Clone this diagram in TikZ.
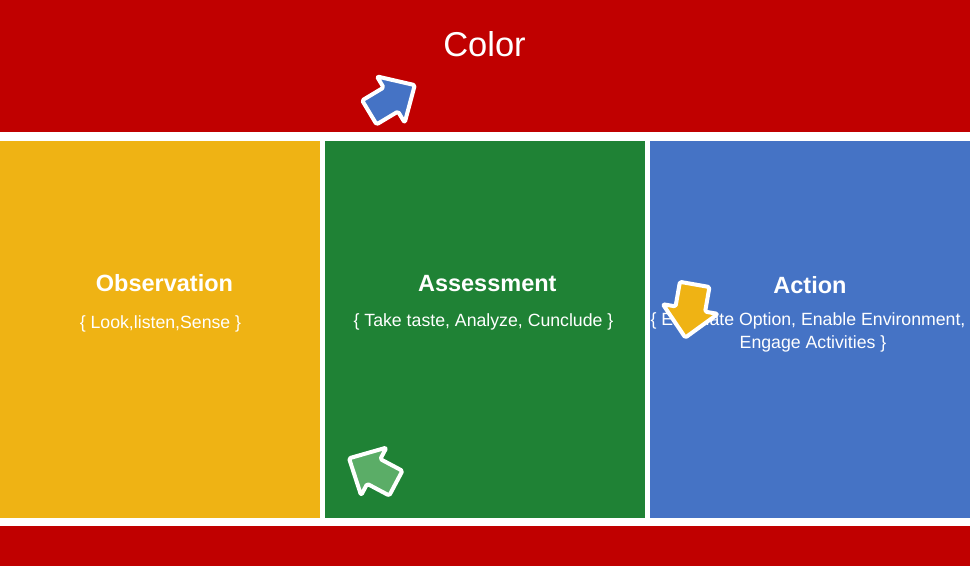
\documentclass[tikz,border=0pt]{standalone}
\usepackage{fontspec}
\setmainfont{Liberation Sans}
\definecolor{bandred}{HTML}{C00000}
\definecolor{panelyellow}{HTML}{EFB314}
\definecolor{panelgreen}{HTML}{1F8235}
\definecolor{panelblue}{HTML}{4573C5}
\definecolor{lightgreen}{HTML}{5BAD67}
\begin{document}
\begin{tikzpicture}[x=1pt,y=-1pt,
  band/.style={draw=none,inner sep=0pt,outer sep=0pt,fill=bandred,minimum width=970pt},
  panel/.style={draw=none,inner sep=0pt,outer sep=0pt,minimum width=320pt,minimum height=377pt},
  heading/.style={anchor=base,inner sep=0pt,text=white,font=\fontsize{23.5}{28}\selectfont\bfseries},
  detail/.style={anchor=base,inner sep=0pt,text=white,font=\fontsize{17.7}{21}\selectfont},
  blockarrow/.style={draw=white,line width=4pt,line join=round,rounded corners=1.5pt}]
\useasboundingbox (0,0) rectangle (970,566);
\fill[white] (0,0) rectangle (970,566);

% red bands
\node[band,minimum height=132pt] (top) at (485,66) {};
\node[band,minimum height=40pt] (bottom) at (485,546) {};
\node[anchor=base,inner sep=0pt,text=white,font=\fontsize{34.5}{40}\selectfont] (title) at (484.5,56) {Color};

% three panels
\node[panel,fill=panelyellow] (obs) at (160,329.5) {};
\node[panel,fill=panelgreen] (ass) at (485,329.5) {};
\node[panel,fill=panelblue] (act) at (810,329.5) {};

\node[heading] (obsT) at (164.5,291.7) {Observation};
\node[detail] (obsD) at (160.5,328) {\{ Look,listen,Sense \}};

\node[heading] (assT) at (487.3,291.7) {Assessment};
\node[detail] (assD) at (483.5,326.5) {\{ Take taste, Analyze, Cunclude \}};

\node[heading] (actT) at (810,293.3) {Action};
\node[detail] (actD1) at (808,325) {\{ Eliminate Option, Enable Environment,};
\node[detail] (actD2) at (813,348.5) {Engage Activities \}};

% block arrows
\path[blockarrow,fill=panelblue,shift={(392.5,98.5)},rotate=31]
  (-27,-14) -- (-2,-14) -- (-2,-27) -- (26,0) -- (-2,27) -- (-2,14) -- (-27,14) -- cycle;
\path[blockarrow,fill=lightgreen,shift={(372,470.5)},rotate=152]
  (-27,-14) -- (-2,-14) -- (-2,-27) -- (26,0) -- (-2,27) -- (-2,14) -- (-27,14) -- cycle;
\path[blockarrow,fill=panelyellow,shift={(690,311)},rotate=260]
  (-27,-15) -- (-2,-15) -- (-2,-28) -- (27,0) -- (-2,28) -- (-2,15) -- (-27,15) -- cycle;
\end{tikzpicture}
\end{document}
